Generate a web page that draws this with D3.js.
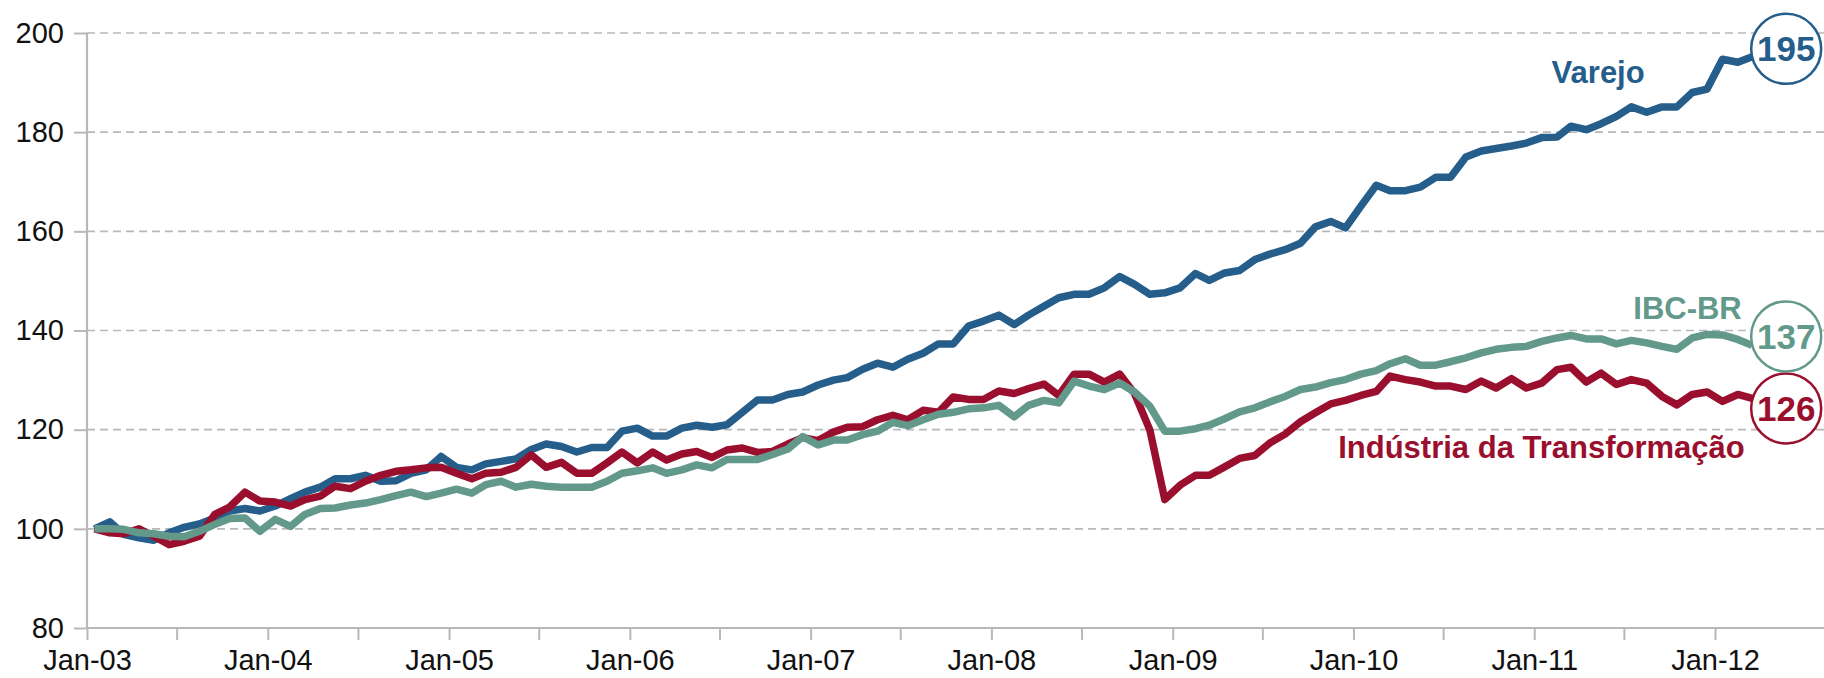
<!DOCTYPE html>
<html>
<head>
<meta charset="utf-8">
<script src="https://cdn.jsdelivr.net/npm/d3@7"></script>
<style>
    html, body { margin: 0; padding: 0; background: #fff; }
    svg { display: block; font-family: "Liberation Sans", Arial, Helvetica, sans-serif; }
</style>
</head>
<body>
<div id="graph-container"></div>
<script>
// Monthly series, Jan-03 to Mar-12 (base Jan-03 = 100)
const firstMonth = [2003, 0];

const varejo = [
    100, 101.4, 98.9, 98.2, 97.7, 99.2, 100.3, 101, 102.2, 103.6, 104.1, 103.6,
    104.6, 106.1, 107.4, 108.4, 110.1, 110.1, 110.8, 109.6, 109.7, 111.2, 111.9, 114.6,
    112.4, 111.9, 113.1, 113.6, 114.1, 116, 117.1, 116.6, 115.5, 116.4, 116.4, 119.7,
    120.3, 118.7, 118.7, 120.3, 120.9, 120.5, 121, 123.5, 126, 126, 127.1, 127.6,
    129, 130, 130.5, 132.2, 133.4, 132.6, 134.2, 135.4, 137.3, 137.3, 140.9, 141.9,
    143.1, 141.2, 143.1, 144.9, 146.6, 147.3, 147.3, 148.6, 150.9, 149.3, 147.3, 147.6,
    148.6, 151.5, 150.1, 151.6, 152.1, 154.3, 155.4, 156.3, 157.6, 160.9, 162, 160.7,
    165.1, 169.3, 168.2, 168.2, 168.9, 170.9, 170.9, 175, 176.2, 176.7, 177.2, 177.8,
    178.9, 179, 181.2, 180.5, 181.7, 183.2, 185.1, 184, 185.1, 185.1, 188, 188.7,
    194.7, 194.1, 195.2
];

const industria = [
    100, 99.2, 99, 100, 98.5, 96.8, 97.5, 98.5, 102.9, 104.4, 107.4, 105.6,
    105.4, 104.6, 105.9, 106.6, 108.6, 108.1, 109.6, 110.8, 111.6, 111.9, 112.3, 112.4,
    111.2, 110.1, 111.2, 111.4, 112.4, 114.9, 112.4, 113.4, 111.2, 111.2, 113.3, 115.5,
    113.3, 115.5, 113.9, 115.1, 115.6, 114.4, 115.9, 116.3, 115.4, 115.6, 117.1, 118.4,
    117.8, 119.5, 120.5, 120.6, 122, 122.9, 122, 123.9, 123.5, 126.6, 126.1, 126.1,
    127.8, 127.3, 128.3, 129.2, 126.9, 131.2, 131.2, 129.6, 131.2, 127.3, 119.9, 105.9,
    108.8, 110.8, 110.8, 112.5, 114.2, 114.8, 117.3, 119.1, 121.6, 123.4, 125.2, 125.9,
    126.9, 127.7, 130.8, 130.1, 129.6, 128.8, 128.8, 128.1, 129.8, 128.4, 130.3, 128.4,
    129.4, 132.1, 132.6, 129.6, 131.4, 129.1, 130.1, 129.4, 126.7, 125, 127.1, 127.6,
    125.7, 127.1, 126.3
];

const ibcbr = [
    100, 100, 99.9, 99.2, 99, 98.5, 98.4, 99.5, 100.9, 102.1, 102.2, 99.5,
    101.9, 100.5, 102.9, 104.1, 104.2, 104.8, 105.2, 105.9, 106.7, 107.4, 106.5, 107.2,
    108, 107.2, 108.9, 109.6, 108.4, 109, 108.6, 108.4, 108.4, 108.4, 109.6, 111.2,
    111.7, 112.3, 111.2, 111.9, 112.9, 112.3, 114, 114, 114, 115, 116.1, 118.6,
    116.9, 117.9, 117.9, 119, 119.7, 121.5, 120.8, 122, 123.1, 123.5, 124.2, 124.4,
    124.9, 122.6, 124.9, 125.9, 125.4, 129.8, 128.8, 128.1, 129.4, 127.6, 124.7, 119.7,
    119.7, 120.2, 120.9, 122.2, 123.6, 124.4, 125.6, 126.7, 128.1, 128.6, 129.5, 130.1,
    131.2, 131.9, 133.3, 134.3, 133, 133, 133.7, 134.5, 135.5, 136.2, 136.6, 136.8,
    137.8, 138.5, 139, 138.3, 138.3, 137.3, 138, 137.5, 136.8, 136.2, 138.5, 139.2,
    139.1, 138.2, 137
];

const yTicks = [80, 100, 120, 140, 160, 180, 200];
const endLabels = ["195", "137", "126"];
const seriesNames = ["Varejo", "IBC-BR", "Indústria da Transformação"];

document.addEventListener("DOMContentLoaded", (event) => {
    const svgWidth = 1824;
    const svgHeight = 678;
    const margin = { top: 33, right: 0, bottom: 50, left: 87 };
    const height = svgHeight - margin.top - margin.bottom;
    const width = svgWidth - margin.left - margin.right;

    const blue = "#255d8b";
    const red = "#9b0f2e";
    const green = "#62998b";
    const gridGrey = "#b8b8b8";

    // Month dates, placed mid-month like the original
    const dates = varejo.map((d, i) => new Date(firstMonth[0], firstMonth[1] + i, 16));

    const svg = d3.select("#graph-container").append("svg")
        .attr("width", svgWidth)
        .attr("height", svgHeight);

    const g = svg.append("g")
        .attr("transform", `translate(${margin.left}, ${margin.top})`);

    const x = d3.scaleTime()
        .domain([new Date(2003, 0, 1), new Date(2012, 7, 8)])
        .range([0, width]);

    const y = d3.scaleLinear()
        .domain([80, 200])
        .range([height, 0]);

    // Dashed gridlines
    g.append("g")
        .selectAll("line")
        .data(yTicks.filter(t => t > 80))
        .enter().append("line")
        .attr("x1", 0)
        .attr("x2", width)
        .attr("y1", d => y(d))
        .attr("y2", d => y(d))
        .attr("stroke", gridGrey)
        .attr("stroke-width", 1.6)
        .attr("stroke-dasharray", "8,5");

    // Y axis
    const yAxis = g.append("g")
        .attr("class", "y-axis")
        .call(d3.axisLeft(y).tickValues(yTicks).tickSize(13).tickPadding(10));

    // X axis: ticks every 6 months, labels on January only
    const xTicks = d3.timeMonth.every(6).range(new Date(2003, 0, 1), new Date(2012, 1, 1));
    const xAxis = g.append("g")
        .attr("class", "x-axis")
        .attr("transform", `translate(0, ${height})`)
        .call(d3.axisBottom(x)
            .tickValues(xTicks)
            .tickSize(12)
            .tickPadding(14)
            .tickFormat(d => d.getMonth() === 0 ? d3.timeFormat("%b-%y")(d) : ""));

    [yAxis, xAxis].forEach(ax => {
        ax.select(".domain")
            .attr("stroke", gridGrey)
            .attr("stroke-width", 2.2);
        ax.selectAll(".tick line")
            .attr("stroke", gridGrey)
            .attr("stroke-width", 2);
        ax.selectAll(".tick text")
            .attr("fill", "#111")
            .style("font-size", "29px");
    });
    xAxis.select(".domain").attr("d", `M0,0H${width}`);
    yAxis.select(".domain").attr("d", `M0,0V${height}`);
    xAxis.selectAll(".tick text").attr("dy", "0.55em");

    // Lines
    const line = d3.line()
        .x((d, i) => x(dates[i]))
        .y(d => y(d));

    const series = [
        { name: seriesNames[0], values: varejo, color: blue, label: endLabels[0], dy: -8 },
        { name: seriesNames[2], values: industria, color: red, label: endLabels[2], dy: 10 },
        { name: seriesNames[1], values: ibcbr, color: green, label: endLabels[1], dy: -9 }
    ];

    g.selectAll(".series")
        .data(series)
        .enter().append("path")
        .attr("class", "series")
        .attr("d", d => line(d.values))
        .attr("fill", "none")
        .attr("stroke", d => d.color)
        .attr("stroke-width", 7.5)
        .attr("stroke-linejoin", "round");

    // End value bubbles
    const last = dates.length - 1;
    const bubbles = g.selectAll(".bubble")
        .data(series)
        .enter().append("g")
        .attr("class", "bubble")
        .attr("transform", d => `translate(${x(dates[last]) + 34}, ${y(d.values[last]) + d.dy})`);

    bubbles.append("circle")
        .attr("r", 35)
        .attr("fill", "#fff")
        .attr("stroke", d => d.color)
        .attr("stroke-width", 2.5);

    bubbles.append("text")
        .attr("text-anchor", "middle")
        .attr("dy", "0.36em")
        .attr("fill", d => d.color)
        .style("font-size", "35px")
        .style("font-weight", "bold")
        .text(d => d.label);

    // Series name labels
    const names = [
        { text: seriesNames[0], date: new Date(2011, 4, 10), value: 190, anchor: "middle", color: blue },
        { text: seriesNames[1], date: new Date(2012, 1, 24), value: 142.3, anchor: "end", color: green },
        { text: seriesNames[2], date: new Date(2012, 2, 1), value: 114.3, anchor: "end", color: red }
    ];

    g.selectAll(".name-label")
        .data(names)
        .enter().append("text")
        .attr("class", "name-label")
        .attr("x", d => x(d.date))
        .attr("y", d => y(d.value))
        .attr("text-anchor", d => d.anchor)
        .attr("fill", d => d.color)
        .style("font-size", "31px")
        .style("font-weight", "bold")
        .text(d => d.text);
});
</script>
</body>
</html>
